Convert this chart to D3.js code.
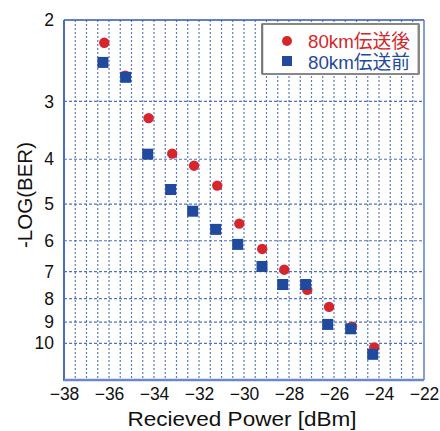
<!DOCTYPE html>
<html><head><meta charset="utf-8">
<script src="https://cdn.jsdelivr.net/npm/d3@7"></script>
<style>body{margin:0;background:#fff}svg{display:block}text{font-family:"Liberation Sans","Noto Sans CJK JP",Arial,sans-serif}</style>
</head><body><svg id="c" width="440" height="431"></svg>
<script>
const xTicks = [-38,-36,-34,-32,-30,-28,-26,-24,-22];
const yTicks = [2,3,4,5,6,7,8,9,10];
const afterX = [-36.21,-35.28,-34.24,-33.19,-32.22,-31.19,-30.21,-29.19,-28.21,-27.19,-26.22,-25.2,-24.21];
const afterY = [2.24,2.64,3.26,3.89,4.13,4.56,5.51,6.25,6.93,7.66,8.34,9.2,10.2];
const beforeX = [-36.27,-35.26,-34.28,-33.26,-32.28,-31.26,-30.28,-29.2,-28.28,-27.26,-26.28,-25.26,-24.28];
const beforeY = [2.47,2.66,3.90,4.65,5.18,5.67,6.11,6.82,7.46,7.46,9.10,9.30,10.56];
const legendLabels = ["80km伝送後","80km伝送前"];

const svg = d3.select("#c");
const L=64,R=424,T=20,B=380;
const x = d3.scaleLinear().domain([-38,-22]).range([L,R]);
const y = d3.scaleLog().domain([2,12]).range([T,B]);
const grid="#3f64b8";
const g = svg.append("g");
g.selectAll("line.v").data(d3.range(-37.5,-22,0.5)).enter().append("line")
 .attr("x1",d=>x(d)).attr("x2",d=>x(d)).attr("y1",T).attr("y2",B)
 .attr("stroke",grid).attr("stroke-width",1.2).attr("stroke-dasharray","2,2").attr("opacity",0.85);
g.selectAll("line.h").data(yTicks.slice(1)).enter().append("line")
 .attr("x1",L).attr("x2",R).attr("y1",d=>y(d)).attr("y2",d=>y(d))
 .attr("stroke",grid).attr("stroke-width",1.2).attr("stroke-dasharray","3,2").attr("opacity",0.9);
svg.append("line").attr("x1",L).attr("x2",R).attr("y1",T).attr("y2",T).attr("stroke","#2f56b0").attr("stroke-width",1.5);
svg.append("line").attr("x1",R).attr("x2",R).attr("y1",T).attr("y2",B).attr("stroke","#5a7cc8").attr("stroke-width",1.5);
svg.append("line").attr("x1",L).attr("x2",L).attr("y1",T).attr("y2",B+1).attr("stroke","#4a6cc0").attr("stroke-width",2);
svg.append("line").attr("x1",L).attr("x2",R).attr("y1",B).attr("y2",B).attr("stroke","#6a88cc").attr("stroke-width",2.5);

const xAxis = d3.axisBottom(x).tickValues(xTicks).tickSize(0).tickPadding(8).tickFormat(d=>"\u2212"+Math.abs(d));
const xa = svg.append("g").attr("transform",`translate(0,${B})`).call(xAxis);
xa.select(".domain").remove();
xa.selectAll("text").attr("font-size",17.5).attr("fill","#111");
const yAxis = d3.axisLeft(y).tickValues(yTicks).tickSize(0).tickPadding(10).tickFormat(d3.format("d"));
const ya = svg.append("g").attr("transform",`translate(${L},0)`).call(yAxis);
ya.select(".domain").remove();
ya.selectAll("text").attr("font-size",17.5).attr("fill","#111");

svg.append("text").attr("x",242).attr("y",426).attr("text-anchor","middle").attr("font-size",21)
 .attr("textLength",229).attr("lengthAdjust","spacingAndGlyphs").attr("fill","#111").text("Recieved Power [dBm]");
svg.append("text").attr("transform","translate(32,195) rotate(-90)").attr("text-anchor","middle").attr("font-size",21)
 .attr("textLength",106).attr("lengthAdjust","spacingAndGlyphs").attr("fill","#111").text("-LOG(BER)");

const red="#d7262b", blue="#1f4a9e";
svg.append("g").selectAll("circle").data(afterX.map((d,i)=>[d,afterY[i]])).enter().append("circle")
 .attr("cx",d=>x(d[0])).attr("cy",d=>y(d[1])).attr("r",5.2).attr("fill",red);
const s=11;
svg.append("g").selectAll("rect").data(beforeX.map((d,i)=>[d,beforeY[i]])).enter().append("rect")
 .attr("x",d=>x(d[0])-s/2).attr("y",d=>y(d[1])-s/2).attr("width",s).attr("height",s).attr("fill",blue);

const lg = svg.append("g");
lg.append("rect").attr("x",262).attr("y",24).attr("width",157).attr("height",50).attr("fill","#fff").attr("stroke","#111").attr("stroke-width",1);
lg.append("line").attr("x1",418.5).attr("x2",418.5).attr("y1",24).attr("y2",74).attr("stroke","#888").attr("stroke-width",2);
lg.append("line").attr("x1",262.5).attr("x2",262.5).attr("y1",24).attr("y2",74).attr("stroke","#777").attr("stroke-width",1.5);
lg.append("circle").attr("cx",287).attr("cy",41).attr("r",5).attr("fill",red);
lg.append("rect").attr("x",282).attr("y",56).attr("width",10).attr("height",10).attr("fill",blue);
lg.append("text").attr("x",308).attr("y",48).attr("font-size",19).attr("textLength",102).attr("lengthAdjust","spacingAndGlyphs").attr("fill",red).text(legendLabels[0]);
lg.append("text").attr("x",308).attr("y",68.5).attr("font-size",19).attr("textLength",102).attr("lengthAdjust","spacingAndGlyphs").attr("fill",blue).text(legendLabels[1]);
</script></body></html>
